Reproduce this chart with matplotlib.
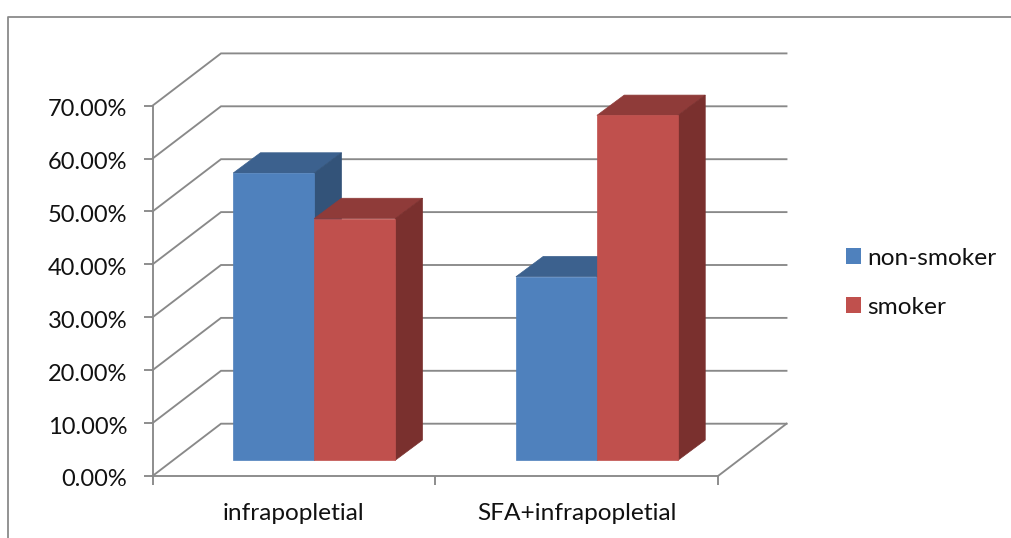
import matplotlib
matplotlib.use('Agg')
import matplotlib.pyplot as plt
from matplotlib.patches import Patch, Polygon
from matplotlib.lines import Line2D
from matplotlib.transforms import ScaledTranslation

plt.rcParams['font.family'] = ['Lato', 'DejaVu Sans']

categories = ['infrapopletial', 'SFA+infrapopletial']
non_smoker = [54.3, 34.7]
smoker = [45.7, 65.2]
series_names = ['non-smoker', 'smoker']
y_ticks = [0, 10, 20, 30, 40, 50, 60, 70]

W, H = 1011, 538
GRAY = '#898989'
TEXT = '#111111'
BLUE = ('#4f81bd', '#3c618e', '#335379')
RED = ('#c0504d', '#8f3b39', '#7a302e')

fig = plt.figure(figsize=(W / 100, H / 100), dpi=100)

# frame around the chart area
fig.add_artist(Line2D([8 / W, 8 / W, 1], [0, 1 - 16.5 / H, 1 - 16.5 / H], color='#8a8a8a', lw=1.3))

# front plane of the plot box, in pixels
x0, x1, y0, y1 = 152.5, 718, 476, 105.7
ax = fig.add_axes([x0 / W, 1 - y0 / H, (x1 - x0) / W, (y0 - y1) / H])
ax.set_xlim(0, 2)
ax.set_ylim(0, 70)
px = 2 / (x1 - x0)
py = 70 / (y0 - y1)

# 3d offsets: whole box depth, bar front inset, bar depth
box_dx, box_dy = 68.5 * px, 52.3 * py
ins_dx, ins_dy = 20.6 * px, 15.7 * py
bar_dx, bar_dy = 27.3 * px, 20.3 * py
bar_w = 81 * px
bar_start = 0.2125

for s in ['top', 'right']:
    ax.spines[s].set_visible(False)
for s in ['left', 'bottom']:
    ax.spines[s].set_color(GRAY)
    ax.spines[s].set_linewidth(1.35)
ax.patch.set_alpha(0)

ax.set_xticks([0, 1, 2])
ax.set_xticklabels([])
ax.set_yticks(y_ticks)
ax.set_yticklabels(['%.2f%%' % v for v in y_ticks], fontsize=17, color=TEXT)
ax.tick_params(axis='both', color=GRAY, width=1.35, length=6.2)
ax.tick_params(axis='y', pad=12)

# nudge the value labels down a little from their ticks
nudge = ScaledTranslation(0, -2 / 100, fig.dpi_scale_trans)
for lab in ax.get_yticklabels():
    lab.set_transform(lab.get_transform() + nudge)

for i, name in enumerate(categories):
    ax.text(i + 0.5, -7.0, name, ha='center', va='center', fontsize=17.6, color=TEXT)

# back wall gridlines and the diagonals running to them
for v in y_ticks:
    ax.plot([0, box_dx, 2 + box_dx], [v, v + box_dy, v + box_dy], color=GRAY, lw=1.35,
            clip_on=False, zorder=1, solid_joinstyle='miter')
ax.plot([2, 2 + box_dx], [0, box_dy], color=GRAY, lw=1.35, clip_on=False, zorder=1)


def draw_bar(left, value, cols, z):
    l = left + ins_dx
    r = l + bar_w
    b = ins_dy
    t = b + value
    # edges in the face colour close the seams between faces
    ax.add_patch(Polygon([(l, t), (r, t), (r + bar_dx, t + bar_dy), (l + bar_dx, t + bar_dy)],
                         fc=cols[1], ec=cols[1], lw=0.5, clip_on=False, zorder=z))
    ax.add_patch(Polygon([(r, b), (r + bar_dx, b + bar_dy), (r + bar_dx, t + bar_dy), (r, t)],
                         fc=cols[2], ec=cols[2], lw=0.5, clip_on=False, zorder=z))
    ax.add_patch(Polygon([(l, b), (r, b), (r, t), (l, t)],
                         fc=cols[0], ec=cols[0], lw=0.5, clip_on=False, zorder=z))


for i in range(len(categories)):
    left = i + bar_start
    draw_bar(left, non_smoker[i], BLUE, 3)
    draw_bar(left + bar_w, smoker[i], RED, 4)

handles = [Patch(fc=BLUE[0], ec='none', label=series_names[0]),
           Patch(fc=RED[0], ec='none', label=series_names[1])]
fig.legend(handles=handles, loc='upper left', bbox_to_anchor=(846 / W, 1 - 248 / H), frameon=False,
           fontsize=17.6, labelcolor=TEXT, handlelength=0.62, handleheight=0.62,
           handletextpad=0.26, labelspacing=1.13, borderpad=0, borderaxespad=0)

fig.savefig('out.png', dpi=100)
